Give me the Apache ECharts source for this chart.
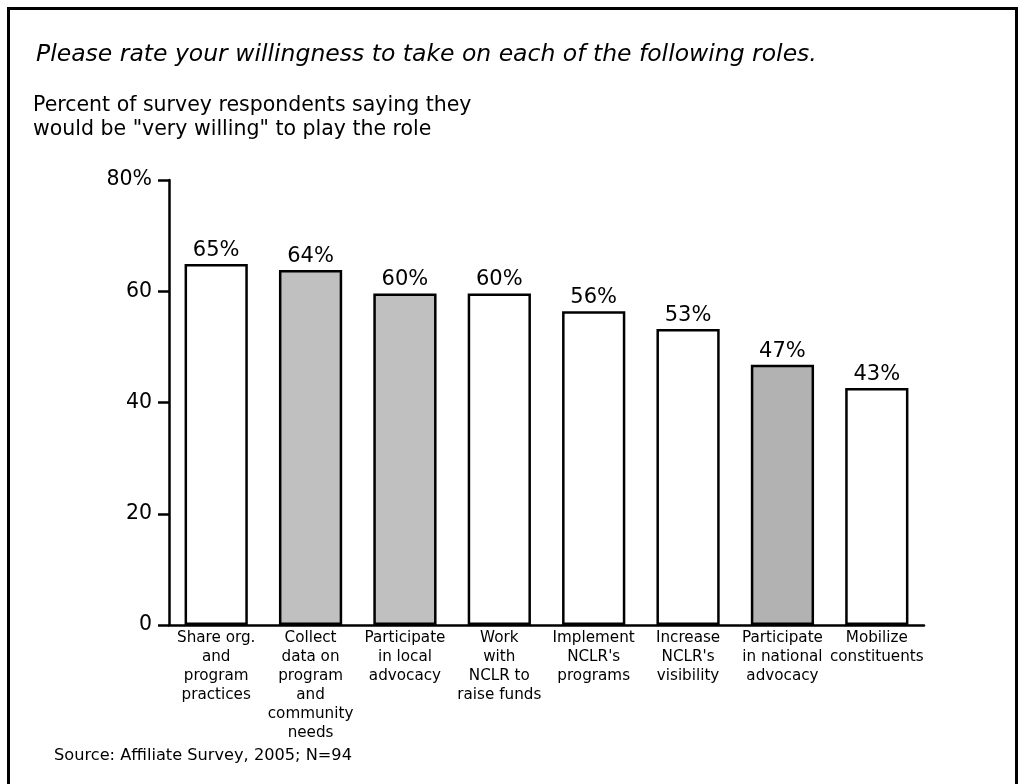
<!DOCTYPE html>
<html>
<head>
<meta charset="utf-8">
<script src="https://cdn.jsdelivr.net/npm/echarts@6/dist/echarts.min.js"></script>
<style>
html,body{margin:0;padding:0;background:#fff;overflow:hidden;width:1024px;height:784px;}
#frame{position:absolute;left:7px;top:7px;width:1005px;height:820px;border:3px solid #000;}
#chart{position:absolute;left:0;top:0;width:1024px;height:784px;}
</style>
</head>
<body>
<div id="frame"></div>
<div id="chart"></div>
<script>
const categories = [
  "Share org.\nand\nprogram\npractices",
  "Collect\ndata on\nprogram\nand\ncommunity\nneeds",
  "Participate\nin local\nadvocacy",
  "Work\nwith\nNCLR to\nraise funds",
  "Implement\nNCLR's\nprograms",
  "Increase\nNCLR's\nvisibility",
  "Participate\nin national\nadvocacy",
  "Mobilize\nconstituents"
];
const values = [64.9, 63.8, 59.6, 59.6, 56.4, 53.2, 46.8, 42.6];
const barColors = ["#ffffff", "#c0c0c0", "#c0c0c0", "#ffffff", "#ffffff", "#ffffff", "#b2b2b2", "#ffffff"];
const yTicks = [0, 20, 40, 60, 80];
const titleText = "Please rate your willingness to take on each of the following roles.";
const subtitleText = "Percent of survey respondents saying they\nwould be \"very willing\" to play the role";
const sourceText = "Source: Affiliate Survey, 2005; N=94";

const FONT = "DejaVu Sans";
const chart = echarts.init(document.getElementById('chart'));
chart.setOption({
  animation: false,
  backgroundColor: 'transparent',
  title: [
    {text: titleText, left: 31, top: 38,
     textStyle: {fontFamily: FONT, fontStyle: 'italic', fontWeight: 'normal', fontSize: 23.5, color: '#000'}},
    {text: subtitleText, left: 28, top: 89,
     textStyle: {fontFamily: FONT, fontWeight: 'normal', fontSize: 20.5, color: '#000', lineHeight: 23.5}},
    {text: sourceText, left: 49, top: 743,
     textStyle: {fontFamily: FONT, fontWeight: 'normal', fontSize: 16.2, color: '#000'}}
  ],
  grid: {left: 169, right: 100, top: 180, bottom: 159, containLabel: false},
  xAxis: {
    type: 'category',
    data: categories,
    axisLine: {lineStyle: {color: '#000', width: 2.5}},
    axisTick: {show: false},
    axisLabel: {interval: 0, fontFamily: FONT, fontSize: 15.2, color: '#000', lineHeight: 19, margin: 4, align: 'center'}
  },
  yAxis: {
    type: 'value',
    min: 0, max: 80, interval: 20,
    splitLine: {show: false},
    axisLine: {show: true, lineStyle: {color: '#000', width: 2.5}},
    axisTick: {show: true, length: 11, lineStyle: {color: '#000', width: 2.5}},
    axisLabel: {fontFamily: FONT, fontSize: 20.5, color: '#000', margin: 17,
      formatter: v => (v === yTicks[yTicks.length - 1] ? v + '%' : String(v))}
  },
  series: [{
    type: 'bar',
    data: values.map((v, i) => ({value: v, itemStyle: {color: barColors[i]}})),
    barCategoryGap: '33%',
    itemStyle: {borderColor: '#000', borderWidth: 2.5},
    label: {show: true, position: 'top', distance: 3, fontFamily: FONT, fontSize: 21, color: '#000',
      formatter: p => Math.round(p.value) + '%'}
  }]
});
</script>
</body>
</html>
